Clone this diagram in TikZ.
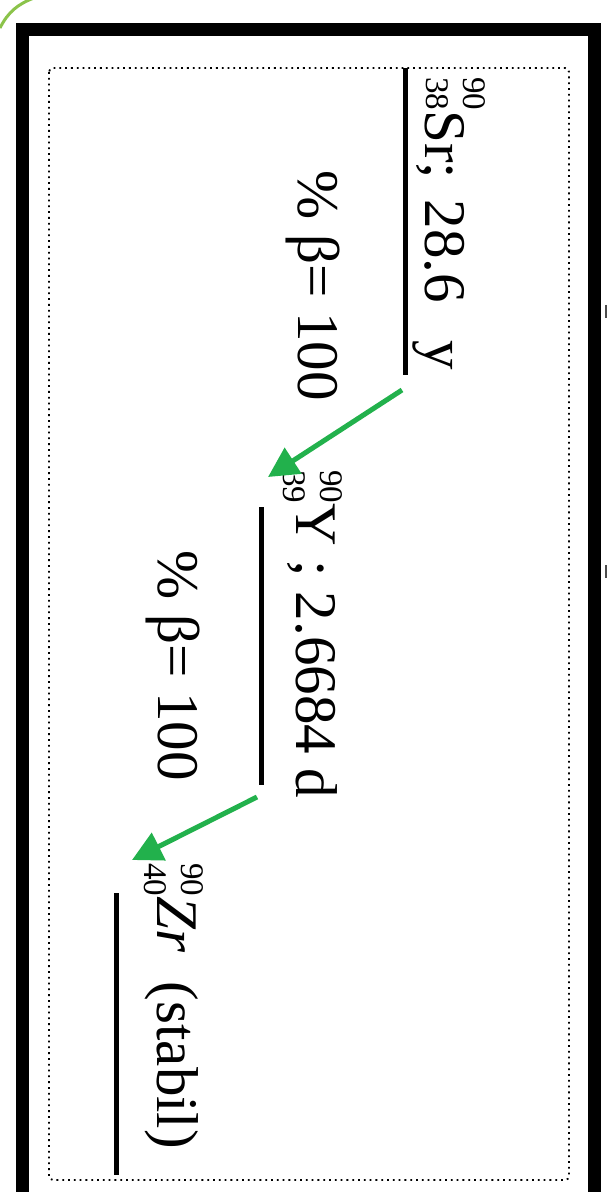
\documentclass[tikz,border=0pt]{standalone}
\usepackage{fontspec}
\setmainfont{Liberation Serif}
\usetikzlibrary{arrows.meta}
\definecolor{decaygreen}{RGB}{34,177,76}
\definecolor{leafgreen}{RGB}{139,195,74}
\newcommand{\isosize}{\fontsize{16.5}{18}\selectfont}
\newcommand{\nuc}[4][0pt]{\makebox[0pt][l]{\raisebox{\dimexpr12pt+#1\relax}{\isosize #2}}\raisebox{\dimexpr-6.5pt+#1\relax}{\isosize #3}#4}

\begin{document}
\begin{tikzpicture}[
  x=0.5pt, y=-0.5pt,
  frame/.style={line width=6.5pt},
  box/.style={dotted, line width=0.9pt, rounded corners=2pt},
  lvl/.style={line width=2.5pt},
  decay/.style={decaygreen, line width=2.5pt,
                -{Triangle[length=15pt,width=15pt]}},
  every node/.style={rotate=-90, anchor=base west, inner sep=0pt,
                     font=\fontsize{29.5}{32}\selectfont}
]
\useasboundingbox (0,0) rectangle (615,1192);

% frames
\draw[leafgreen, line width=1.5pt] (0,28) .. controls (8,12) and (18,4) .. (34,-2);
\draw[frame] (22,30) rectangle (594,1240);
\draw[box] (49,68) rectangle (569,1180);
\draw[black!70, line width=1pt] (606,305) -- (606,318);
\draw[black!70, line width=1pt] (606,565) -- (606,578);

% levels
\coordinate (sr top) at (405,68);
\coordinate (sr bot) at (405,375);
\coordinate (y top) at (261,507);
\coordinate (y bot) at (261,785);
\coordinate (zr top) at (116,893);
\coordinate (zr bot) at (116,1175);
\draw[lvl] (sr top) -- (sr bot);
\draw[lvl] (y top) -- (y bot);
\draw[lvl] (zr top) -- (zr bot);

\node (sr) at (425,77) {\nuc[7pt]{90}{38}{Sr};\hspace{3pt} 28.6\ \ \hspace{4pt}y};
\node (y) at (296,470) {\nuc{90}{39}{Y} ; 2.6684 d};
\node (zr) at (157,863) {\nuc{90}{40}{\textit{Zr}}\ \ (stabil)};

% decays
\coordinate (sr out) at (402,390);
\coordinate (y in) at (268,477);
\coordinate (y out) at (257,797);
\coordinate (zr in) at (132,860);
\draw[decay] (sr out) -- (y in);
\draw[decay] (y out) -- (zr in);
\node (beta1) at (298,170) {\% β= 100};
\node (beta2) at (158,550) {\% β= 100};
\end{tikzpicture}
\end{document}
